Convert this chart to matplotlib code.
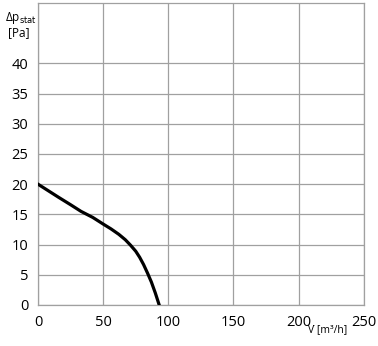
import matplotlib
matplotlib.use("Agg")
import matplotlib.pyplot as plt

plt.rcParams['font.family'] = ['Open Sans', 'DejaVu Sans']

# fan curve: airflow [m3/h] vs static pressure [Pa]
flow = [0, 8, 16, 25, 33, 42, 50, 56, 62, 67, 71, 75, 78, 81, 84, 87, 90, 93]
pressure = [20, 18.9, 17.8, 16.6, 15.5, 14.5, 13.4, 12.6, 11.7, 10.8, 9.9, 8.9, 7.9, 6.7, 5.3, 3.8, 2.0, 0]

x_ticks = [0, 50, 100, 150, 200, 250]
y_ticks = [0, 5, 10, 15, 20, 25, 30, 35, 40]

fig = plt.figure(figsize=(3.78, 3.46), dpi=100)
ax = fig.add_axes([0.1005, 0.1185, 0.862, 0.873])

ax.plot(flow, pressure, color='black', linewidth=2.3, solid_joinstyle='round', zorder=3)

ax.set_xlim(0, 250)
ax.set_ylim(0, 50)
ax.set_xticks(x_ticks)
ax.set_yticks(y_ticks)
ax.tick_params(length=0, labelsize=10.5, pad=7)
ax.grid(True, color='#a0a0a0', linewidth=0.9)
for s in ax.spines.values():
    s.set_color('#a0a0a0')
    s.set_linewidth(0.9)

fig.text(0.012, 0.947, "Δp$_{\\mathrm{stat}}$", fontsize=8.5, ha='left', va='center')
fig.text(0.02, 0.905, "[Pa]", fontsize=8.5, ha='left', va='center')
fig.text(0.868, 0.048, "V\u0307 [m³/h]", fontsize=7.5, ha='center', va='center')

fig.savefig("out.png", dpi=100)
